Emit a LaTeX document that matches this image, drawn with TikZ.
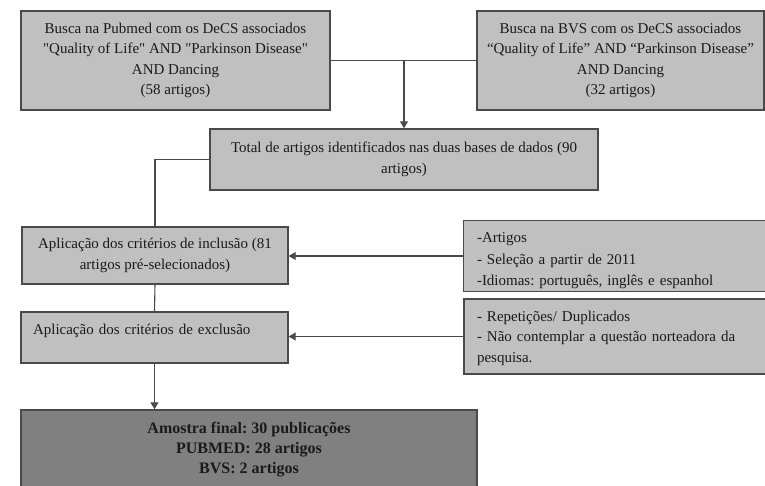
\documentclass[tikz,border=0pt]{standalone}
\usepackage{fontspec}
\setmainfont{Liberation Serif}
\usetikzlibrary{arrows.meta}
\frenchspacing

\definecolor{boxfill}{HTML}{C0C0C0}
\definecolor{finalfill}{HTML}{808080}
\definecolor{edge}{HTML}{4A4A4A}
\definecolor{ink}{HTML}{1A1A1A}

\tikzset{
  box/.style={draw=edge, fill=boxfill, line width=1.4pt, inner sep=0pt,
    text=ink, font=\fontsize{15}{20.5}\selectfont},
  finalbox/.style={box, fill=finalfill, font=\fontsize{16}{20}\selectfont\bfseries},
  link/.style={draw=edge, line width=1.1pt},
  arrow/.style={link, -{Triangle[width=8pt,length=7pt]}}
}

\begin{document}
\begin{tikzpicture}[x=1pt, y=-1pt]
  \useasboundingbox[fill=white] (0,0) rectangle (765,486);

  % database searches
  \node[box, minimum width=309, minimum height=99, align=center] (pub) at (175.5,60.5)
    {Busca na Pubmed com os DeCS associados\\
     \textquotedbl Quality of Life\textquotedbl{} AND \textquotedbl Parkinson Disease\textquotedbl\\
     AND Dancing\\
     (58 artigos)};
  \node[box, minimum width=287, minimum height=99, align=center] (bvs) at (620.5,60.5)
    {Busca na BVS com os DeCS associados\\
     “Quality of Life” AND “Parkinson Disease”\\
     AND Dancing\\
     (32 artigos)};

  % pooled result
  \node[box, minimum width=388, minimum height=61, align=center] (total) at (404,159.5)
    {Total de artigos identificados nas duas bases de dados (90\\artigos)};

  % screening steps
  \node[box, minimum width=266, minimum height=57, align=center] (incl) at (155,255.5)
    {Aplicação dos critérios de inclusão (81\\artigos pré-selecionados)};
  \node[box, minimum width=267, minimum height=51, align=left, text width=243,
        text height=10.5pt, text depth=17.5pt] (excl) at (154.5,337.5)
    {Aplicação dos critérios de exclusão};

  % criteria lists (the first one is cut off by its frame)
  \begin{scope}
    \clip (464,221) rectangle (766,291);
    \node[box, draw=none, minimum width=302, minimum height=70, align=left,
          text width=276, text height=21pt, text depth=47pt] (crit1) at (615,256)
      {\baselineskip=22pt -Artigos\\
       - Seleção a partir de 2011\\
       -Idiomas: português, inglês e espanhol};
  \end{scope}
  \draw[draw=edge, line width=1.4pt] (crit1.north west) rectangle (crit1.south east);

  \node[box, minimum width=302, minimum height=75, align=left, text width=276,
        text height=13.3pt, text depth=44.3pt] (crit2) at (615,336.5)
    {- Repetições/ Duplicados\\
     - Não contemplar a questão norteadora da\\
     pesquisa.};

  % final sample
  \node[finalbox, minimum width=456, minimum height=80, align=center] (final) at (249,450)
    {Amostra final: 30 publicações\\
     PUBMED: 28 artigos\\
     BVS: 2 artigos};

  % connectors
  \draw[link] (pub.east) -- (bvs.west);
  \coordinate (merge) at (total.north |- pub.east);
  \draw[arrow] (merge) -- (total.north);
  \draw[link] (total.west) -- (total.west -| incl.north) -- (incl.north);
  \draw[arrow] (crit1.west) -- (crit1.west -| incl.east);
  \draw[link] (incl.south) -- (excl.north);
  \draw[arrow] (crit2.west) -- (crit2.west -| excl.east);
  \draw[arrow] (excl.south) -- (excl.south |- final.north);
\end{tikzpicture}
\end{document}
